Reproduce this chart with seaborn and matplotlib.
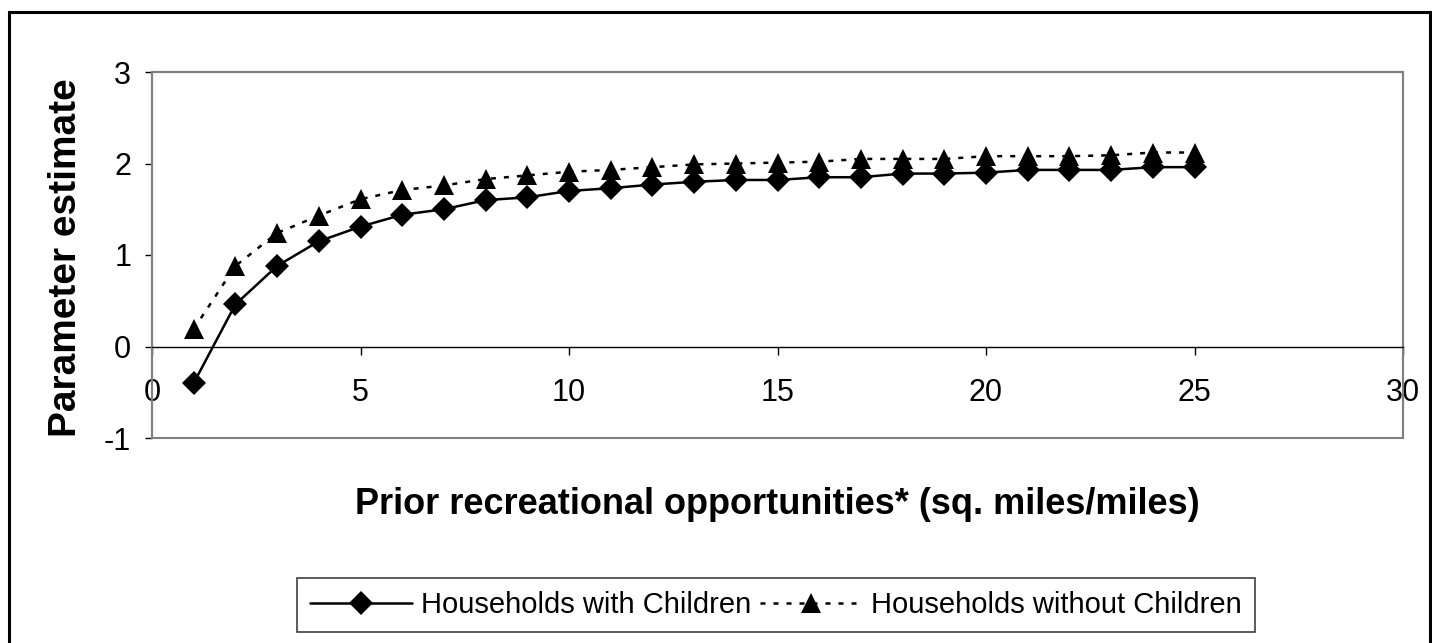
import matplotlib
matplotlib.use("Agg")
import matplotlib.pyplot as plt
import matplotlib.patches as patches
import seaborn as sns

# values (x = 1..25)
opportunities = list(range(1, 26))
with_children = [-0.40, 0.46, 0.88, 1.15, 1.31, 1.44, 1.50, 1.60, 1.63, 1.70,
                 1.73, 1.77, 1.80, 1.82, 1.82, 1.85, 1.85, 1.89, 1.89, 1.90,
                 1.93, 1.93, 1.93, 1.96, 1.96]
without_children = [0.19, 0.88, 1.24, 1.43, 1.61, 1.71, 1.76, 1.83, 1.87, 1.91,
                    1.93, 1.96, 1.99, 2.00, 2.01, 2.02, 2.05, 2.05, 2.05, 2.08,
                    2.08, 2.08, 2.09, 2.12, 2.12]
x_ticks = [0, 5, 10, 15, 20, 25, 30]
y_ticks = [-1, 0, 1, 2, 3]

sns.set_style("white")
plt.rcParams["font.family"] = ["Liberation Sans", "DejaVu Sans"]
plt.rcParams["axes.unicode_minus"] = False  # "-1" with a plain hyphen
plt.rcParams["text.color"] = "black"

W, H = 1432, 643
fig = plt.figure(figsize=(W / 100, H / 100), dpi=100)
# plot area in pixels: x 152..1403, y 72..438
ax = fig.add_axes([152 / W, 1 - 438 / H, (1403 - 152) / W, (438 - 72) / H])

sns.lineplot(x=opportunities, y=with_children, ax=ax, color="black",
             linewidth=1.8, marker="D", markersize=12,
             markeredgecolor="black", markeredgewidth=0,
             label="Households with Children")
sns.lineplot(x=opportunities, y=without_children, ax=ax, color="black",
             linewidth=1.8, linestyle=(0, (2, 3.2)), marker="^", markersize=15,
             markeredgecolor="black", markeredgewidth=0,
             label="Households without Children")

ax.set_xlim(0, 30)
ax.set_ylim(-1, 3)
ax.set_xticks(x_ticks)
ax.set_yticks(y_ticks)
ax.set_xlabel("")
ax.set_ylabel("")

# grey frame round the plot area, black x axis through zero
for side in ["top", "right", "left"]:
    ax.spines[side].set_color("#808080")
    ax.spines[side].set_linewidth(1.5)
ax.spines["bottom"].set_position(("data", 0))
ax.spines["bottom"].set_color("black")
ax.spines["bottom"].set_linewidth(1)
ax.add_patch(patches.Rectangle((0, 0), 1, 1, transform=ax.transAxes, fill=False,
                               edgecolor="#808080", linewidth=1.5, clip_on=False))

ax.tick_params(axis="x", bottom=True, direction="out", length=6, width=1,
               pad=17, labelsize=22, colors="black")
ax.tick_params(axis="y", left=True, direction="out", length=5, width=1,
               pad=10, labelsize=22, colors="black")

fig.text(777 / W, 1 - 505 / H, "Prior recreational opportunities* (sq. miles/miles)",
         ha="center", va="center", fontsize=26, fontweight="bold")
fig.text(66 / W, 1 - 258 / H, "Parameter estimate", rotation=90,
         ha="center", va="center", fontsize=28, fontweight="bold")

leg = ax.legend(loc="center", bbox_to_anchor=(776 / W, 1 - 605 / H),
                bbox_transform=fig.transFigure, ncol=2, fontsize=21,
                handlelength=3.5, handletextpad=0.3, columnspacing=0.3,
                borderpad=0.45, fancybox=False, framealpha=1, edgecolor="#404040")
leg.get_frame().set_linewidth(1.2)

# black border round the whole chart
fig.patches.append(patches.Rectangle((9 / W, -0.05), (1430 - 9) / W, 1.05 - 12 / H,
                                     transform=fig.transFigure, fill=False,
                                     edgecolor="black", linewidth=2.2))

plt.savefig("out.png", dpi=100)
